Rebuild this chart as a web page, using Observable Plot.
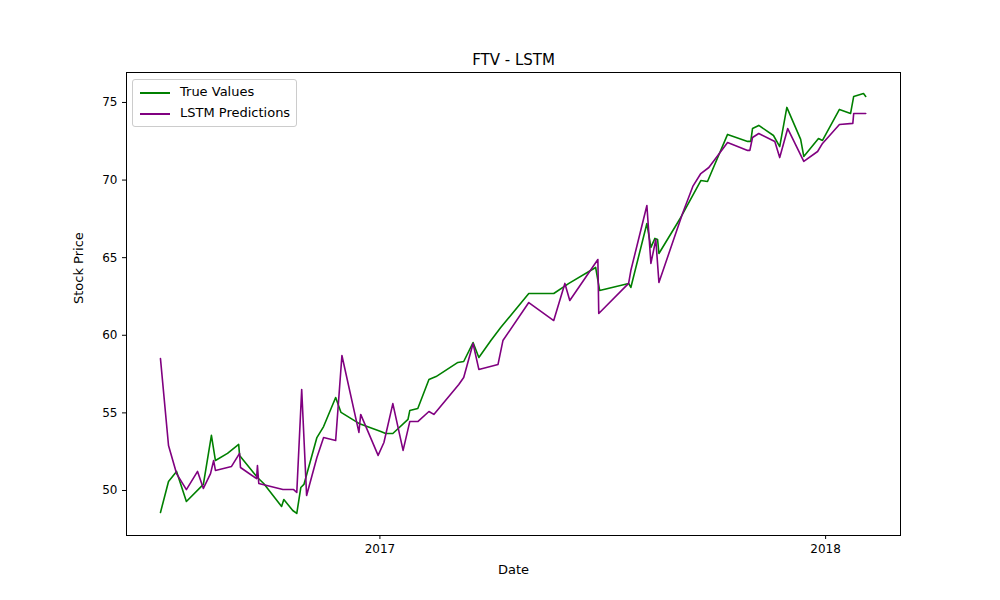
<!DOCTYPE html>
<html><head><meta charset="utf-8">
<script src="https://cdn.jsdelivr.net/npm/d3@7"></script>
<script src="https://cdn.jsdelivr.net/npm/@observablehq/plot@0.6"></script>
<style>
body{margin:0;background:#fff;font-family:"DejaVu Sans",sans-serif;}
#wrap{position:relative;width:1000px;height:600px;}
#legend{position:absolute;left:132px;top:79px;border:1px solid #ccc;border-radius:3px;background:#fff;padding:1px 6px 3px 7px;font-size:13px;line-height:21px;color:#000;}
#legend span.l{display:inline-block;width:30px;height:0;border-top:2px solid;vertical-align:middle;margin-right:10px;}
</style></head><body>
<div id="wrap"><div id="legend">
<div><span class="l" style="border-color:green"></span>True Values</div>
<div><span class="l" style="border-color:purple"></span>LSTM Predictions</div>
</div></div>
<script>
// dates as decimal years
const trueDates = [2016.509,2016.527,2016.545,2016.567,2016.605,2016.623,2016.632,2016.659,2016.684,2016.686,2016.726,2016.740,2016.780,2016.785,2016.805,2016.814,2016.823,2016.830,2016.859,2016.874,2016.901,2016.913,2016.953,2017.002,2017.013,2017.029,2017.063,2017.067,2017.085,2017.110,2017.126,2017.175,2017.188,2017.209,2017.222,2017.249,2017.271,2017.334,2017.390,2017.424,2017.484,2017.493,2017.558,2017.563,2017.599,2017.608,2017.617,2017.623,2017.626,2017.675,2017.720,2017.735,2017.780,2017.825,2017.832,2017.836,2017.850,2017.883,2017.897,2017.913,2017.944,2017.951,2017.984,2017.993,2018.031,2018.056,2018.063,2018.085,2018.090];
const trueValues = [48.58,50.58,51.23,49.29,50.39,53.55,51.93,52.39,52.97,52.26,50.84,50.45,48.97,49.42,48.71,48.52,50.19,50.39,53.41,54.12,55.99,55.03,54.32,53.80,53.67,53.67,54.58,55.15,55.28,57.15,57.34,58.25,58.31,59.53,58.57,59.66,60.50,62.69,62.69,63.34,64.37,62.89,63.34,63.08,67.20,65.66,66.24,66.17,65.27,67.59,69.97,69.91,72.94,72.49,72.49,73.32,73.52,72.87,72.16,74.68,72.62,71.52,72.68,72.55,74.55,74.29,75.39,75.58,75.39];
const predDates = [2016.509,2016.527,2016.545,2016.567,2016.592,2016.605,2016.621,2016.628,2016.632,2016.668,2016.686,2016.688,2016.724,2016.726,2016.729,2016.783,2016.807,2016.814,2016.825,2016.836,2016.859,2016.874,2016.901,2016.915,2016.953,2016.957,2016.996,2017.009,2017.029,2017.052,2017.067,2017.085,2017.110,2017.121,2017.177,2017.188,2017.209,2017.222,2017.265,2017.276,2017.334,2017.390,2017.415,2017.426,2017.489,2017.491,2017.558,2017.563,2017.599,2017.608,2017.619,2017.626,2017.679,2017.702,2017.720,2017.738,2017.780,2017.825,2017.830,2017.836,2017.850,2017.886,2017.897,2017.915,2017.951,2017.982,2017.993,2018.031,2018.061,2018.063,2018.090];
const predValues = [58.50,52.90,51.09,50.06,51.23,50.13,51.09,51.93,51.29,51.55,52.39,51.48,50.77,51.61,50.45,50.06,50.06,49.87,56.51,49.68,52.13,53.41,53.22,58.70,53.74,54.90,52.26,53.09,55.60,52.58,54.44,54.44,55.09,54.90,56.83,57.28,59.47,57.80,58.12,59.66,62.11,60.95,63.34,62.24,64.88,61.40,63.34,64.17,68.36,64.63,66.17,63.40,67.85,69.59,70.42,70.81,72.42,71.91,71.91,72.74,73.00,72.49,71.45,73.32,71.20,71.84,72.36,73.58,73.65,74.29,74.29];
const yTicks = [50,55,60,65,70,75];
const xTickYears = [2017,2018];

function toDate(dy){const y=Math.floor(dy);const s=Date.UTC(y,0,1),e=Date.UTC(y+1,0,1);return new Date(s+(dy-y)*(e-s));}
const data = [
  ...trueDates.map((d,i)=>({date:toDate(d),v:trueValues[i],s:"True Values"})),
  ...predDates.map((d,i)=>({date:toDate(d),v:predValues[i],s:"LSTM Predictions"}))
];
const plot = Plot.plot({
  width:1000,height:600,
  marginLeft:126,marginRight:100,marginTop:72,marginBottom:65,
  style:{fontFamily:"DejaVu Sans",fontSize:"12px",color:"#000"},
  x:{type:"utc",domain:[toDate(2016.433),toDate(2018.168)],label:null},
  y:{domain:[47.1,76.93],label:null},
  marks:[
    Plot.frame({stroke:"#000"}),
    Plot.axisX({ticks:xTickYears.map(y=>new Date(Date.UTC(y,0,1))),tickFormat:d3.utcFormat("%Y"),tickSize:4,fontSize:12,label:null}),
    Plot.axisY({ticks:yTicks,tickSize:4,fontSize:12,label:null}),
    Plot.line(data,{x:"date",y:"v",z:"s",stroke:d=>d.s==="True Values"?"green":"purple",strokeWidth:1.6}),
    Plot.text(["FTV - LSTM"],{frameAnchor:"top",dy:-18,fontSize:15}),
    Plot.text(["Date"],{frameAnchor:"bottom",dy:38,fontSize:13}),
    Plot.text(["Stock Price"],{frameAnchor:"left",dx:-48,rotate:-90,fontSize:13})
  ]
});
document.getElementById("wrap").prepend(plot);
plot.style.position="absolute";plot.style.left="0";plot.style.top="0";
</script></body></html>
